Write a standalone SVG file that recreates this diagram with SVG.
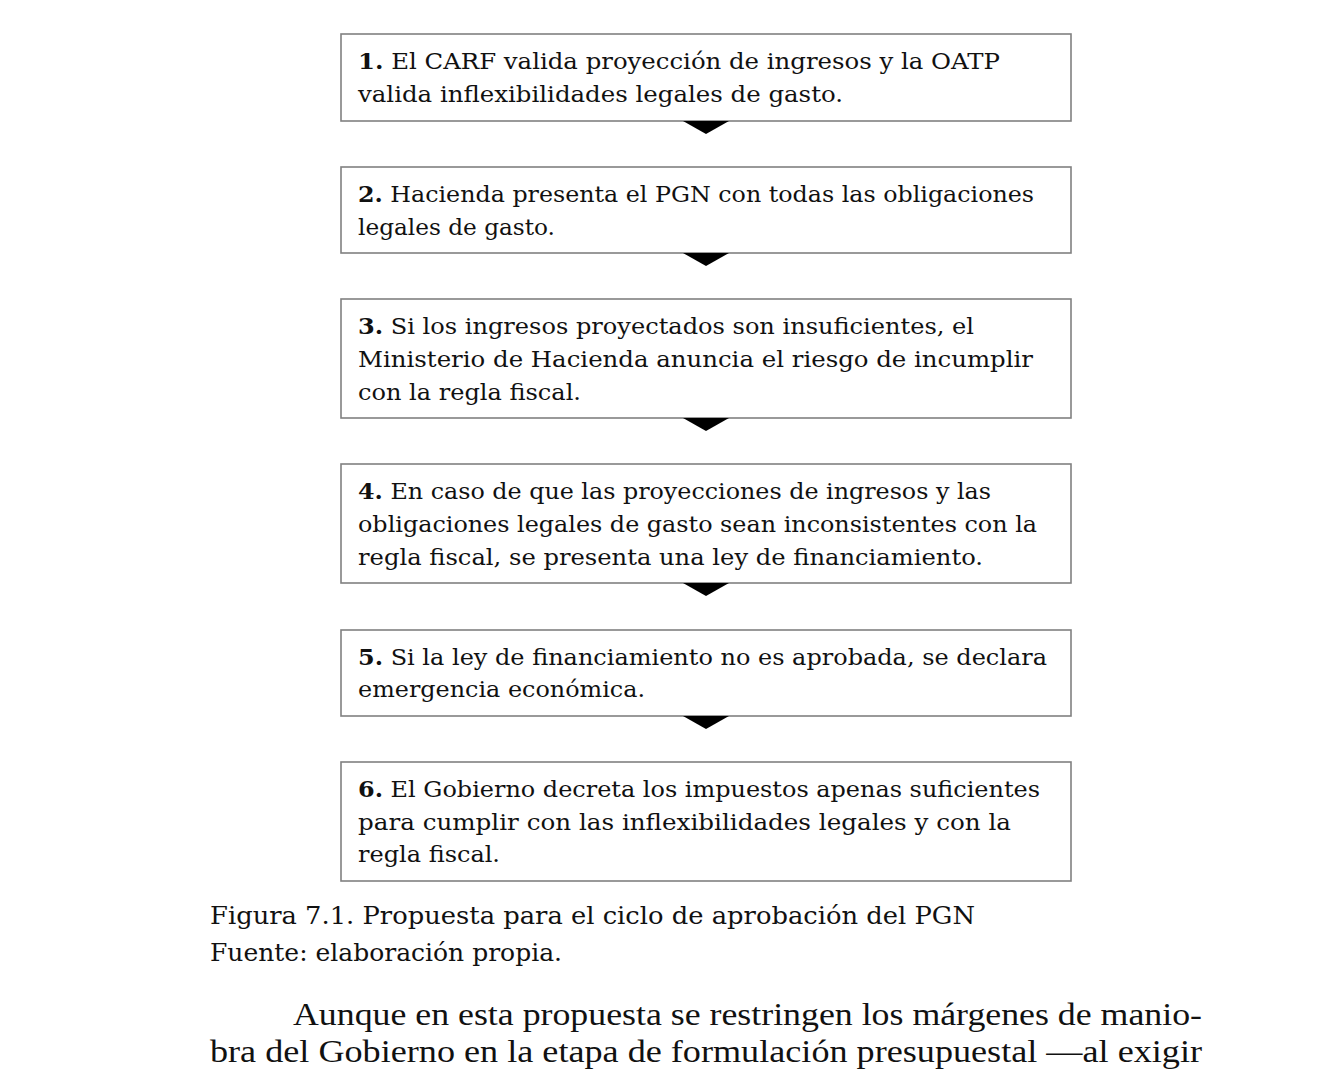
<svg xmlns="http://www.w3.org/2000/svg" width="1330" height="1085" viewBox="0 0 1330 1085">
<style>
.box{fill:#fff;stroke:#808080;stroke-width:1.6}
.t{font-family:"DejaVu Serif","Liberation Serif",serif;font-size:22.5px;fill:#111}
.b{font-weight:bold}
.cap{font-family:"DejaVu Serif","Liberation Serif",serif;font-size:23.5px;fill:#111}
.body{font-family:"Liberation Serif",serif;font-size:32px;fill:#111}
.arr{fill:#000}
</style>
<rect width="1330" height="1085" fill="#fff"/>
<g id="node1">
<rect class="box" x="341" y="34" width="730" height="87"/>
<text class="t" x="358" y="69" textLength="642" lengthAdjust="spacingAndGlyphs"><tspan class="b">1.</tspan> El CARF valida proyección de ingresos y la OATP</text>
<text class="t" x="358" y="102" textLength="485" lengthAdjust="spacingAndGlyphs">valida inflexibilidades legales de gasto.</text>
</g>
<g id="node2">
<rect class="box" x="341" y="167" width="730" height="86"/>
<text class="t" x="358" y="202" textLength="676" lengthAdjust="spacingAndGlyphs"><tspan class="b">2.</tspan> Hacienda presenta el PGN con todas las obligaciones</text>
<text class="t" x="358" y="235" textLength="197" lengthAdjust="spacingAndGlyphs">legales de gasto.</text>
</g>
<g id="node3">
<rect class="box" x="341" y="299" width="730" height="119"/>
<text class="t" x="358" y="334" textLength="616" lengthAdjust="spacingAndGlyphs"><tspan class="b">3.</tspan> Si los ingresos proyectados son insuficientes, el</text>
<text class="t" x="358" y="367" textLength="675" lengthAdjust="spacingAndGlyphs">Ministerio de Hacienda anuncia el riesgo de incumplir</text>
<text class="t" x="358" y="400" textLength="223" lengthAdjust="spacingAndGlyphs">con la regla fiscal.</text>
</g>
<g id="node4">
<rect class="box" x="341" y="464" width="730" height="119"/>
<text class="t" x="358" y="499" textLength="633" lengthAdjust="spacingAndGlyphs"><tspan class="b">4.</tspan> En caso de que las proyecciones de ingresos y las</text>
<text class="t" x="358" y="532" textLength="679" lengthAdjust="spacingAndGlyphs">obligaciones legales de gasto sean inconsistentes con la</text>
<text class="t" x="358" y="565" textLength="625" lengthAdjust="spacingAndGlyphs">regla fiscal, se presenta una ley de financiamiento.</text>
</g>
<g id="node5">
<rect class="box" x="341" y="630" width="730" height="86"/>
<text class="t" x="358" y="665" textLength="689" lengthAdjust="spacingAndGlyphs"><tspan class="b">5.</tspan> Si la ley de financiamiento no es aprobada, se declara</text>
<text class="t" x="358" y="697" textLength="287" lengthAdjust="spacingAndGlyphs">emergencia económica.</text>
</g>
<g id="node6">
<rect class="box" x="341" y="762" width="730" height="119"/>
<text class="t" x="358" y="797" textLength="682" lengthAdjust="spacingAndGlyphs"><tspan class="b">6.</tspan> El Gobierno decreta los impuestos apenas suficientes</text>
<text class="t" x="358" y="830" textLength="653" lengthAdjust="spacingAndGlyphs">para cumplir con las inflexibilidades legales y con la</text>
<text class="t" x="358" y="862" textLength="142" lengthAdjust="spacingAndGlyphs">regla fiscal.</text>
</g>
<g id="connectors">
<polygon class="arr" points="683,121 729,121 706,134"/>
<polygon class="arr" points="683,253 729,253 706,266"/>
<polygon class="arr" points="683,418 729,418 706,431"/>
<polygon class="arr" points="683,583 729,583 706,596"/>
<polygon class="arr" points="683,716 729,716 706,729"/>
</g>
<g id="caption">
<text class="cap" x="210" y="924" textLength="765" lengthAdjust="spacingAndGlyphs">Figura 7.1. Propuesta para el ciclo de aprobación del PGN</text>
<text class="cap" x="210" y="961" textLength="352" lengthAdjust="spacingAndGlyphs">Fuente: elaboración propia.</text>
</g>
<g id="body">
<text class="body" x="293" y="1025" textLength="909" lengthAdjust="spacingAndGlyphs">Aunque en esta propuesta se restringen los márgenes de manio-</text>
<text class="body" x="210" y="1062" textLength="992" lengthAdjust="spacingAndGlyphs">bra del Gobierno en la etapa de formulación presupuestal —al exigir</text>
</g>
</svg>
